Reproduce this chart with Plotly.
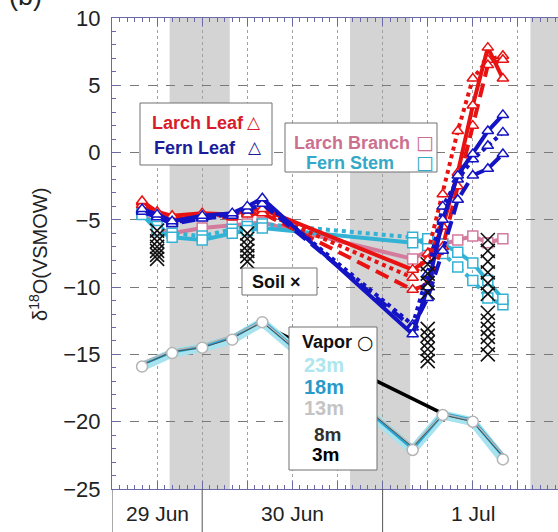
import plotly.graph_objects as go

# ---------------- data ----------------
leaf_times = ["2007-06-29 16:00", "2007-06-29 18:00", "2007-06-29 20:00", "2007-06-30 00:00",
              "2007-06-30 04:00", "2007-06-30 06:00", "2007-06-30 08:00", "2007-07-01 04:00",
              "2007-07-01 06:00", "2007-07-01 08:00", "2007-07-01 10:00", "2007-07-01 12:00",
              "2007-07-01 14:00", "2007-07-01 16:00"]

larch_leaf_solid = [-3.6, -4.4, -4.7, -4.5, -4.6, -4.3, -4.2, -8.7, -8.0, -5.5, -1.5, 3.5, 7.8, 5.5]
larch_leaf_dash = [-3.9, -4.6, -5.0, -4.7, -4.8, -4.6, -4.5, -10.2, -9.8, -7.0, -2.5, 2.0, 6.5, 6.9]
larch_leaf_dot = [-3.7, -4.5, -4.9, -4.6, -4.7, -4.5, -4.4, -9.3, -7.5, -3.1, 1.6, 5.5, 6.9, 7.2]

fern_leaf_solid = [-4.2, -4.6, -5.1, -4.7, -4.5, -4.0, -3.4, -13.5, -10.0, -5.0, -1.7, -0.1, 1.6, 2.8]
fern_leaf_dash = [-4.4, -4.8, -5.3, -4.9, -4.7, -4.3, -3.8, -13.0, -10.8, -7.3, -3.5, -1.7, -1.2, -0.1]
fern_leaf_dot = [-4.3, -4.7, -5.2, -4.8, -4.6, -4.2, -3.6, -12.8, -9.0, -4.0, -2.0, -0.5, 0.5, 1.5]

larch_branch = [-4.5, -5.6, -6.0, -5.6, -5.4, -5.3, -5.2, -7.9, -7.3, -6.8, -6.5, -6.2, -6.7, -6.4]
fern_stem_solid = [-4.6, -5.8, -6.3, -6.5, -6.0, -5.8, -5.6, -6.7, -6.4, -6.8, -7.4, -8.2, -9.5, -10.9]
fern_stem_dot = [-4.5, -5.5, -6.0, -6.2, -5.7, -5.5, -5.3, -6.3, -6.9, -7.5, -8.5, -9.5, -10.8, -11.3]

vapor_times = ["2007-06-29 16:00", "2007-06-29 20:00", "2007-06-30 00:00", "2007-06-30 04:00",
               "2007-06-30 08:00", "2007-07-01 04:00", "2007-07-01 08:00", "2007-07-01 12:00",
               "2007-07-01 16:00"]
vapor_23m = [-15.9, -14.9, -14.5, -13.9, -12.6, -22.1, -19.5, -20.0, -22.8]
vapor_18m = [-15.7, -14.8, -14.4, -13.7, -12.5, -22.0, -19.4, -19.9, -22.5]
vapor_13m = [-15.6, -14.7, -14.3, -13.6, -12.5, -21.8, -19.4, -19.9, -22.4]
vapor_8m = [-15.8, -14.8, -14.5, -13.8, -12.6, -21.9, -19.5, -20.0, -22.6]
vapor_3m = [-15.7, -14.9, -14.6, -13.9, -12.8, None, -19.4, -19.9, -22.6]

soil_times = (["2007-06-29 18:00"] * 7 + ["2007-06-30 06:00"] * 6 +
              ["2007-07-01 06:00"] * 10 + ["2007-07-01 14:00"] * 12)
soil_values = ([-5.8, -6.2, -6.6, -7.0, -7.3, -7.6, -7.9] +
               [-6.0, -6.4, -6.9, -7.3, -7.7, -8.1] +
               [-8.3, -9.0, -9.7, -10.4, -13.1, -13.6, -14.1, -14.6, -15.1, -15.5] +
               [-6.5, -7.3, -8.1, -8.9, -9.7, -10.5, -11.9, -12.5, -13.1, -13.7, -14.3, -15.0])

night_starts = ["2007-06-29 19:40", "2007-06-30 19:40", "2007-07-01 19:40"]
night_ends = ["2007-06-30 03:40", "2007-07-01 03:40", "2007-07-01 23:20"]

day_labels = ["29 Jun", "30 Jun", "1 Jul"]
day_label_pos = ["2007-06-29 18:00", "2007-06-30 12:00", "2007-07-01 12:00"]
day_bounds = ["2007-06-29 12:00", "2007-06-30 00:00", "2007-07-01 00:00"]

y_ticks = [-25, -20, -15, -10, -5, 0, 5, 10]

# ---------------- styling ----------------
RED = "#e81212"
BLUE = "#1414c4"
PINK = "#d47a9c"
CYAN = "#32b2d4"
FONT = "Liberation Sans, Arial, sans-serif"
SYMFONT = "DejaVu Sans, sans-serif"

W, H = 558, 532
L, T, B = 112, 18, 43
PW, PH = W - L, H - T - B


def px(x):
    return (x - L) / PW


def py(y):
    return (H - B - y) / PH


fig = go.Figure()

# vapor (3m under the cyan band)
fig.add_trace(go.Scatter(x=vapor_times, y=vapor_3m, mode="lines", connectgaps=True,
                         line=dict(color="#000000", width=3.5)))
fig.add_trace(go.Scatter(x=vapor_times, y=vapor_23m, mode="lines", line=dict(color="#a6e3ee", width=9)))
fig.add_trace(go.Scatter(x=vapor_times, y=vapor_18m, mode="lines", line=dict(color="#2aa6d2", width=3.5)))
fig.add_trace(go.Scatter(x=vapor_times, y=vapor_13m, mode="lines", line=dict(color="#b8b8b8", width=1.5)))
fig.add_trace(go.Scatter(x=vapor_times, y=vapor_8m, mode="lines", line=dict(color="#505050", width=1)))
fig.add_trace(go.Scatter(x=vapor_times, y=vapor_23m, mode="markers",
                         marker=dict(symbol="circle", size=11, color="white",
                                     line=dict(color="#b4b4b4", width=1.5))))


def leaf(y, color, dash, symbol):
    return go.Scatter(x=leaf_times, y=y, mode="lines+markers",
                      line=dict(color=color, width=4, dash=dash),
                      marker=dict(symbol=symbol, size=10, color="white",
                                  line=dict(color=color, width=1.5)))


fig.add_trace(leaf(larch_branch, PINK, "solid", "square"))
fig.add_trace(leaf(fern_stem_dot, CYAN, "4px,4px", "square"))
fig.add_trace(leaf(fern_stem_solid, CYAN, "solid", "square"))
fig.add_trace(leaf(larch_leaf_dot, RED, "4px,4px", "triangle-up"))
fig.add_trace(leaf(larch_leaf_dash, RED, "14px,7px", "triangle-up"))
fig.add_trace(leaf(larch_leaf_solid, RED, "solid", "triangle-up"))
fig.add_trace(leaf(fern_leaf_dot, BLUE, "4px,4px", "triangle-up"))
fig.add_trace(leaf(fern_leaf_dash, BLUE, "14px,7px", "triangle-up"))
fig.add_trace(leaf(fern_leaf_solid, BLUE, "solid", "triangle-up"))

fig.add_trace(go.Scatter(x=soil_times, y=soil_values, mode="markers",
                         marker=dict(symbol="x-thin", size=14,
                                     line=dict(color="#111111", width=1.6))))

shapes = []
for s, e in zip(night_starts, night_ends):
    shapes.append(dict(type="rect", xref="x", yref="paper", x0=s, x1=e, y0=0, y1=1,
                       fillcolor="#d4d4d4", line=dict(width=0), layer="below"))
for d in day_bounds:
    shapes.append(dict(type="line", xref="x", yref="paper", x0=d, x1=d, y0=0, y1=-B / PH,
                       line=dict(color="#555555", width=1)))

# legend boxes (pixel rectangles)
boxes = [(140, 103, 272, 165), (285, 123, 437, 172), (242, 268, 317, 295), (289, 327, 377, 470)]
for x0, y0, x1, y1 in boxes:
    shapes.append(dict(type="rect", xref="paper", yref="paper", x0=px(x0), x1=px(x1),
                       y0=py(y1), y1=py(y0), fillcolor="white",
                       line=dict(color="#707070", width=1), layer="above"))

ann = []


def txt(x, y, s, color, size=18, bold=True, anchor="left", family=FONT):
    ann.append(dict(xref="paper", yref="paper", x=px(x), y=py(y), text=("<b>%s</b>" % s) if bold else s,
                    showarrow=False, xanchor=anchor, yanchor="middle",
                    font=dict(family=family, size=size, color=color)))


txt(150, 123, "Larch Leaf", "#d81c2c")
txt(254, 122, "△", "#d81c2c", size=17, anchor="center", family=SYMFONT)
txt(152, 148, "Fern Leaf", "#1c1c98")
txt(255, 147, "△", "#1c1c98", size=17, anchor="center", family=SYMFONT)
txt(292, 143, "Larch Branch", "#cc7090")
txt(425, 142, "□", "#cc7090", size=19, bold=False, anchor="center", family=SYMFONT)
txt(304, 163, "Fern Stem", "#34a8c8")
txt(425, 162, "□", "#34a8c8", size=19, bold=False, anchor="center", family=SYMFONT)
txt(250, 282, "Soil ×", "#111111")
txt(300, 342, "Vapor", "#111111")
txt(365, 342, "○", "#111111", size=19, bold=False, anchor="center", family=SYMFONT)
txt(302, 365, "23m", "#aee6ee", size=20)
txt(302, 387, "18m", "#2a98c8", size=20)
txt(302, 408, "13m", "#c4c4c4", size=20)
txt(312, 434, "8m", "#303030", size=19)
txt(310, 454, "3m", "#000000", size=19)

for lab, pos in zip(day_labels, day_label_pos):
    ann.append(dict(xref="x", yref="paper", x=pos, y=py(513), text=lab, showarrow=False,
                    xanchor="center", yanchor="middle",
                    font=dict(family=FONT, size=21, color="#222222")))

ann.append(dict(xref="paper", yref="paper", x=px(38), y=py(255), text="δ<sup>18</sup>O(VSMOW)",
                showarrow=False, textangle=-90, xanchor="center", yanchor="middle",
                font=dict(family=FONT, size=20, color="#222222")))
ann.append(dict(xref="paper", yref="paper", x=px(25), y=py(-4), text="(b)", showarrow=False,
                xanchor="center", yanchor="middle",
                font=dict(family=FONT, size=27, color="#222222")))

AX = "#6a6aa8"
fig.update_layout(
    width=W, height=H, margin=dict(l=L, r=0, t=T, b=B, pad=0, autoexpand=False),
    paper_bgcolor="white", plot_bgcolor="white", showlegend=False,
    shapes=shapes, annotations=ann,
    xaxis=dict(type="date", range=["2007-06-29 12:00", "2007-07-01 23:20"], automargin=False,
               tick0="2007-06-29 00:00", dtick=6 * 3600 * 1000, ticks="inside", ticklen=8,
               tickcolor=AX, showticklabels=False, showline=True, linecolor=AX, linewidth=1,
               mirror="ticks", showgrid=True, gridcolor="#a0a0a0", griddash="dot", gridwidth=1,
               zeroline=False,
               minor=dict(dtick=3600 * 1000, ticks="inside", ticklen=4, tickcolor=AX, showgrid=False)),
    yaxis=dict(range=[-25, 10], tickvals=y_ticks, ticks="inside", ticklen=7, tickcolor=AX,
               automargin=False,
               showline=True, linecolor=AX, linewidth=1, mirror=False,
               showgrid=True, gridcolor="#7a7a7a", griddash="dash", gridwidth=1, zeroline=False,
               tickfont=dict(family=FONT, size=22, color="#222222"), ticklabelstandoff=6,
               minor=dict(dtick=1, ticks="inside", ticklen=4, tickcolor=AX, showgrid=False)),
)

fig.write_html("out.html", config={"displayModeBar": False},
               post_script="document.body.style.margin='0';document.body.style.overflow='hidden';")
